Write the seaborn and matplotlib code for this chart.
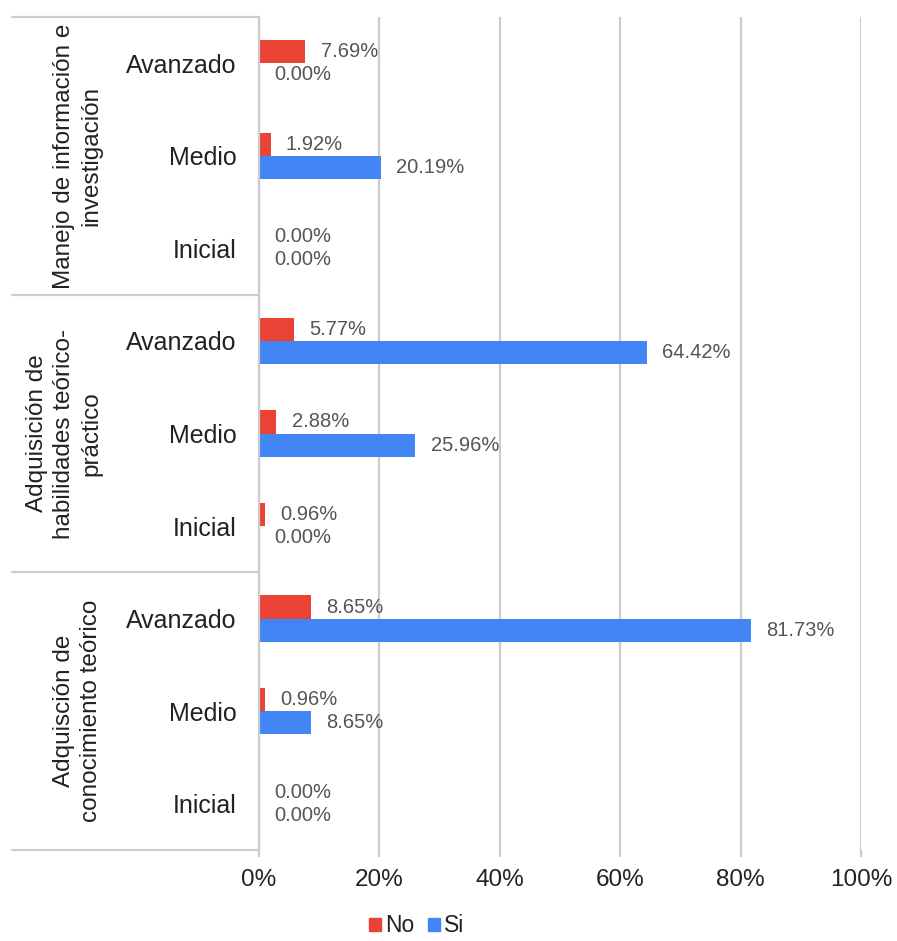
import matplotlib
matplotlib.use("Agg")
import matplotlib.pyplot as plt
import matplotlib.transforms as mtransforms
import seaborn as sns
import pandas as pd

# Competency groups (top to bottom) and levels within each group
groups = [
    "Manejo de información e\ninvestigación",
    "Adquisición de\nhabilidades teórico-\npráctico",
    "Adquisción de\nconocimiento teórico",
]
levels = ["Avanzado", "Medio", "Inicial"]
series = ["No", "Si"]

# Percentages per group, in level order
no_values = [
    [7.69, 1.92, 0.00],
    [5.77, 2.88, 0.96],
    [8.65, 0.96, 0.00],
]
si_values = [
    [0.00, 20.19, 0.00],
    [64.42, 25.96, 0.00],
    [81.73, 8.65, 0.00],
]
x_ticks = [0, 20, 40, 60, 80, 100]
colors = {"No": "#EA4335", "Si": "#4285F4"}

rows = []
for gi, g in enumerate(groups):
    for li, lv in enumerate(levels):
        key = f"{gi}-{lv}"
        rows.append({"fila": key, "serie": "No", "valor": no_values[gi][li]})
        rows.append({"fila": key, "serie": "Si", "valor": si_values[gi][li]})
df = pd.DataFrame(rows)
order = list(dict.fromkeys(df["fila"]))

sns.set_theme(style="white")
plt.rcParams["font.family"] = ["Liberation Sans", "DejaVu Sans"]

W, H = 897, 941
fig = plt.figure(figsize=(W / 100, H / 100), dpi=100)
x0, x1, y0, y1 = 259, 861, 17, 850
ax = fig.add_axes([x0 / W, 1 - y1 / H, (x1 - x0) / W, (y1 - y0) / H])

sns.barplot(
    data=df, x="valor", y="fila", hue="serie", order=order, hue_order=series,
    palette=colors, orient="h", width=0.5, gap=0, saturation=1,
    linewidth=0, ax=ax, legend=False,
)

ax.set_xlim(0, 100)
ax.set_ylim(len(order) - 0.5, -0.5)
ax.set_xticks(x_ticks, labels=[f"{t}%" for t in x_ticks])
ax.set_yticks(range(len(order)), labels=levels * len(groups))
ax.set_xlabel("")
ax.set_ylabel("")
ax.grid(axis="x", color="#cccccc", linewidth=1.6)
ax.set_axisbelow(True)
for side in ["top", "right", "bottom"]:
    ax.spines[side].set_visible(False)
ax.spines["left"].set_color("#cccccc")
ax.spines["left"].set_linewidth(1.6)
ax.tick_params(axis="y", length=0, pad=16, labelsize=18, labelcolor="#222222")
ax.tick_params(axis="x", length=5, width=1.6, color="#cccccc", pad=9,
               labelsize=17.5, labelcolor="#222222", bottom=True)

# Value labels next to each bar
for cont in ax.containers:
    ax.bar_label(cont, fmt="%.2f%%", padding=11, fontsize=14.5, color="#555555")

# Group separators and group titles on the left
trans = mtransforms.blended_transform_factory(ax.transAxes, ax.transData)
left_edge = (12 - x0) / (x1 - x0)
for b in [-0.5, 2.5, 5.5, 8.5]:
    ax.plot([left_edge, 0], [b, b], transform=trans, color="#cccccc",
            linewidth=1.6, clip_on=False)
title_x = (102 - x0) / (x1 - x0)
for gi, g in enumerate(groups):
    ax.text(title_x, gi * 3 + 1, g, transform=trans, rotation=90,
            ha="right", va="center", multialignment="center",
            fontsize=17.5, color="#222222", linespacing=1.3)

# Legend below the chart
handles = [plt.Rectangle((0, 0), 1, 1, color=colors[s]) for s in series]
fig.legend(handles, series, loc="center", bbox_to_anchor=(417 / W, 1 - 926 / H),
           ncol=2, frameon=False, fontsize=16.5, handlelength=0.5, handleheight=0.5,
           handletextpad=0.2, columnspacing=0.6, labelcolor="#222222",
           borderpad=0.1)

fig.savefig("out.png", dpi=100, facecolor="white")
